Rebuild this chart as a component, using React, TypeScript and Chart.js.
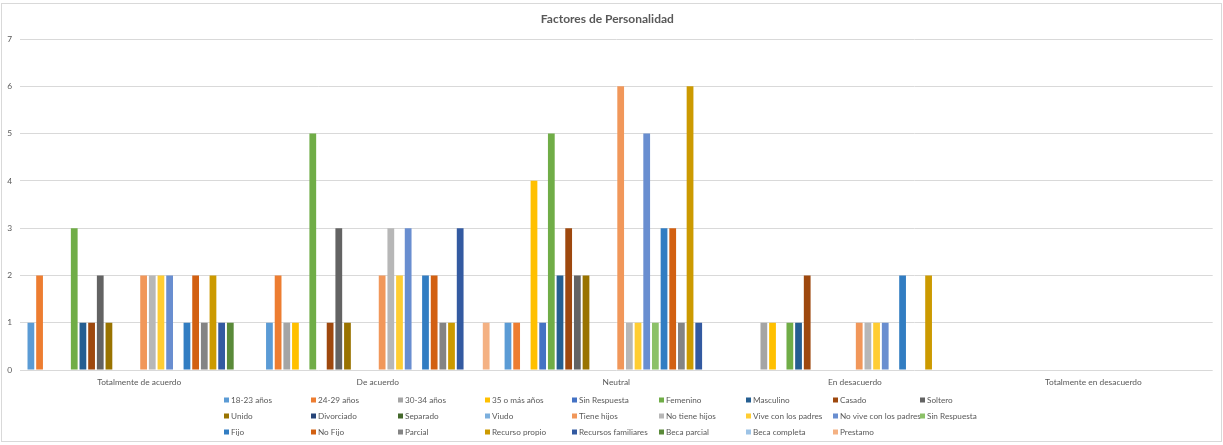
import React, { useEffect, useRef } from "react";
import { Chart, registerables } from "chart.js";

Chart.register(...registerables);

const categories = [
  "Totalmente de acuerdo",
  "De acuerdo",
  "Neutral",
  "En desacuerdo",
  "Totalmente en desacuerdo",
];

const seriesNames = [
  "18-23 años", "24-29 años", "30-34 años", "35 o más años", "Sin Respuesta",
  "Femenino", "Masculino", "Casado", "Soltero",
  "Unido", "Divorciado", "Separado", "Viudo", "Tiene hijos", "No tiene hijos",
  "Vive con los padres", "No vive con los padres", "Sin Respuesta",
  "Fijo", "No Fijo", "Parcial", "Recurso propio", "Recursos familiares",
  "Beca parcial", "Beca completa", "Prestamo",
];

// One array per answer, one value per series (same order as seriesNames)
const totalmenteDeAcuerdo = [1, 2, 0, 0, 0, 3, 1, 1, 2, 1, 0, 0, 0, 2, 2, 2, 2, 0, 1, 2, 1, 2, 1, 1, 0, 0];
const deAcuerdo = [1, 2, 1, 1, 0, 5, 0, 1, 3, 1, 0, 0, 0, 2, 3, 2, 3, 0, 2, 2, 1, 1, 3, 0, 0, 1];
const neutral = [1, 1, 0, 4, 1, 5, 2, 3, 2, 2, 0, 0, 0, 6, 1, 1, 5, 1, 3, 3, 1, 6, 1, 0, 0, 0];
const enDesacuerdo = [0, 0, 1, 1, 0, 1, 1, 2, 0, 0, 0, 0, 0, 1, 1, 1, 1, 0, 2, 0, 0, 2, 0, 0, 0, 0];
const totalmenteEnDesacuerdo = [0, 0, 0, 0, 0, 0, 0, 0, 0, 0, 0, 0, 0, 0, 0, 0, 0, 0, 0, 0, 0, 0, 0, 0, 0, 0];

const answers = [totalmenteDeAcuerdo, deAcuerdo, neutral, enDesacuerdo, totalmenteEnDesacuerdo];

const yTicks = [0, 1, 2, 3, 4, 5, 6, 7];

const seriesColors = [
  "#5B9BD5", "#ED7D31", "#A5A5A5", "#FFC000", "#4472C4", "#70AD47",
  "#255E91", "#9E480E", "#636363", "#997300", "#264478", "#43682B",
  "#7CAFDD", "#F1975A", "#B7B7B7", "#FFCD33", "#698ED0", "#8CC168",
  "#327DC2", "#D26012", "#848484", "#CC9A00", "#335AA1", "#5A8A39",
  "#9DC3E6", "#F4B183",
];

const FONT = "Lato, 'Open Sans', sans-serif";
const TEXT = "#595959";

// Legend laid out on a fixed grid: 9 columns, 3 rows
const gridLegend = {
  id: "gridLegend",
  afterDraw(chart: any) {
    const ctx = chart.ctx;
    const cols = 9;
    const x0 = 222;
    const dx = 87;
    const y0 = 396;
    const dy = 16;
    ctx.save();
    ctx.font = `8.2px ${FONT}`;
    ctx.textBaseline = "middle";
    ctx.textAlign = "left";
    chart.data.datasets.forEach((ds: any, i: number) => {
      const c = i % cols;
      const r = Math.floor(i / cols);
      const x = x0 + c * dx;
      const y = y0 + r * dy;
      ctx.fillStyle = ds.backgroundColor;
      ctx.fillRect(x, y - 2.5, 5, 5);
      ctx.fillStyle = TEXT;
      ctx.fillText(ds.label, x + 7, y + 0.5);
    });
    ctx.restore();
  },
};

export default function App() {
  const canvasRef = useRef<HTMLCanvasElement | null>(null);

  useEffect(() => {
    document.body.style.margin = "0";
    const canvas = canvasRef.current;
    if (!canvas) return;

    const datasets = seriesNames.map((name, s) => ({
      label: name,
      data: answers.map((a) => a[s]),
      backgroundColor: seriesColors[s],
      borderWidth: 0,
      barPercentage: 0.78,
      categoryPercentage: 0.945,
    }));

    const chart = new Chart(canvas, {
      type: "bar",
      data: { labels: categories, datasets },
      options: {
        responsive: false,
        animation: false,
        layout: { padding: { left: 0, right: 8.3, top: 0, bottom: 0 } },
        plugins: {
          legend: { display: false },
          tooltip: { enabled: false },
          title: {
            display: true,
            text: "Factores de Personalidad",
            color: TEXT,
            font: { family: FONT, size: 12, weight: "bold" },
            padding: { top: 7.5, bottom: 13.1 },
          },
        },
        scales: {
          x: {
            grid: { display: false, drawTicks: false },
            border: { display: false },
            ticks: {
              color: TEXT,
              font: { family: FONT, size: 8.4 },
              padding: 7,
              maxRotation: 0,
            },
            afterFit(scale: any) {
              scale.height = 71;
            },
          },
          y: {
            min: 0,
            max: 7,
            afterBuildTicks(scale: any) {
              scale.ticks = yTicks.map((v) => ({ value: v }));
            },
            grid: { color: "#d9d9d9", lineWidth: 1, drawTicks: false },
            border: { display: false },
            ticks: {
              color: TEXT,
              font: { family: FONT, size: 8.4 },
              padding: 8,
            },
            afterFit(scale: any) {
              scale.width = 18;
            },
          },
        },
      },
      plugins: [gridLegend],
    });

    return () => chart.destroy();
  }, []);

  return (
    <div style={{ position: "relative", width: 1223, height: 445, overflow: "hidden", background: "#fff" }}>
      <div
        style={{
          position: "absolute",
          left: 1,
          top: 3,
          width: 1221,
          height: 439,
          boxSizing: "border-box",
          border: "1px solid #d9d9d9",
        }}
      >
        <canvas ref={canvasRef} width={1219} height={437} style={{ display: "block", width: 1219, height: 437 }} />
      </div>
    </div>
  );
}
